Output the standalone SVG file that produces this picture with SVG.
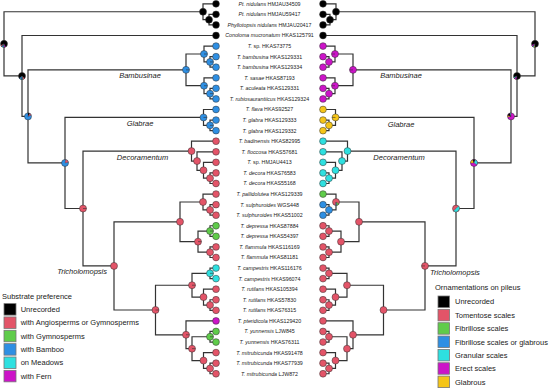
<svg xmlns="http://www.w3.org/2000/svg" width="550" height="388" viewBox="0 0 550 388">
<style>
.e{fill:none;stroke:#333;stroke-width:1.2}
.n{stroke:#333;stroke-width:0.5}
.w{stroke:#333;stroke-width:0.3}
.nl{fill:none;stroke:#333;stroke-width:0.6}
.k{fill:#000}.p{fill:#E35468}.g{fill:#5FCC4A}.b{fill:#2E8FE3}.c{fill:#2EE0E0}.m{fill:#CC14C8}.y{fill:#F5C518}
.t{font-family:"Liberation Sans",Arial,sans-serif;font-size:5.3px;text-anchor:middle;fill:#222}
.i{font-style:italic}
.cl{font-family:"Liberation Sans",Arial,sans-serif;font-size:7.5px;font-style:italic;fill:#222}
.lg{font-family:"Liberation Sans",Arial,sans-serif;font-size:7.5px;fill:#222}
.sw{stroke:#777;stroke-width:0.8}
</style>
<rect width="550" height="388" fill="#fff"/>
<g id="connectors" class="e">
<path d="M203 11.73H4V75.96H22"/>
<path d="M216 3.8H203V19.66H209"/>
<path d="M216 14.37H209V24.94H216"/>
<path d="M216 35.51H22V116.42H28"/>
<path d="M186 69.86H28V162.97H65"/>
<path d="M204 54.01H186V85.72H204"/>
<path d="M216 46.08H204V61.94H210"/>
<path d="M216 56.65H210V67.22H216"/>
<path d="M216 77.79H204V93.65H210"/>
<path d="M216 88.36H210V98.93H216"/>
<path d="M203.5 117.43H65V208.52H83"/>
<path d="M216 109.5H203.5V125.36H210"/>
<path d="M216 120.07H210V130.64H216"/>
<path d="M191.5 151.12H83V265.91H114"/>
<path d="M216 141.21H191.5V161.03H197"/>
<path d="M216 151.78H197V170.28H203.5"/>
<path d="M216 162.35H203.5V178.2H210"/>
<path d="M216 172.92H210V183.49H216"/>
<path d="M180 221.81H114V310H155.5"/>
<path d="M203 201.99H180V241.63H198"/>
<path d="M216 194.06H203V209.92H210"/>
<path d="M216 204.63H210V215.2H216"/>
<path d="M210 231.06H198V252.2H210"/>
<path d="M216 225.77H210V236.34H216"/>
<path d="M216 246.91H210V257.48H216"/>
<path d="M192 285.23H155.5V334.78H186"/>
<path d="M210 273.34H192V297.12H203.5"/>
<path d="M216 268.05H210V278.62H216"/>
<path d="M216 289.19H203.5V305.05H210"/>
<path d="M216 299.76H210V310.33H216"/>
<path d="M216 320.9H186V348.65H192"/>
<path d="M210 336.76H192V360.54H203.5"/>
<path d="M216 331.47H210V342.04H216"/>
<path d="M216 352.61H203.5V368.47H210"/>
<path d="M216 363.18H210V373.75H216"/>
<path d="M336 11.73H535V75.96H517"/>
<path d="M323 3.8H336V19.66H330"/>
<path d="M323 14.37H330V24.94H323"/>
<path d="M323 35.51H517V116.42H511"/>
<path d="M353 69.86H511V162.97H474"/>
<path d="M335 54.01H353V85.72H335"/>
<path d="M323 46.08H335V61.94H329"/>
<path d="M323 56.65H329V67.22H323"/>
<path d="M323 77.79H335V93.65H329"/>
<path d="M323 88.36H329V98.93H323"/>
<path d="M335.5 117.43H474V208.52H456"/>
<path d="M323 109.5H335.5V125.36H329"/>
<path d="M323 120.07H329V130.64H323"/>
<path d="M347.5 151.12H456V265.91H425"/>
<path d="M323 141.21H347.5V161.03H342"/>
<path d="M323 151.78H342V170.28H335.5"/>
<path d="M323 162.35H335.5V178.2H329"/>
<path d="M323 172.92H329V183.49H323"/>
<path d="M359 221.81H425V310H383.5"/>
<path d="M336 201.99H359V241.63H341"/>
<path d="M323 194.06H336V209.92H329"/>
<path d="M323 204.63H329V215.2H323"/>
<path d="M329 231.06H341V252.2H329"/>
<path d="M323 225.77H329V236.34H323"/>
<path d="M323 246.91H329V257.48H323"/>
<path d="M347 285.23H383.5V334.78H353"/>
<path d="M329 273.34H347V297.12H335.5"/>
<path d="M323 268.05H329V278.62H323"/>
<path d="M323 289.19H335.5V305.05H329"/>
<path d="M323 299.76H329V310.33H323"/>
<path d="M323 320.9H353V348.65H347"/>
<path d="M329 336.76H347V360.54H335.5"/>
<path d="M323 331.47H329V342.04H323"/>
<path d="M323 352.61H335.5V368.47H329"/>
<path d="M323 363.18H329V373.75H323"/>
</g>
<g id="internal-left">
<g id="L-root" transform="translate(4 43.85)"><circle r="3.5" class="n k"/><path class="w m" d="M0 0L1.75 3.03A3.5 3.5 0 0 1 0 3.5Z"/><path class="w c" d="M0 0L0 3.5A3.5 3.5 0 0 1 -1.2 3.29Z"/><path class="w b" d="M0 0L-1.2 3.29A3.5 3.5 0 0 1 -2.47 2.47Z"/><path class="w p" d="M0 0L-2.47 2.47A3.5 3.5 0 0 1 -3.17 1.48Z"/></g>
<g id="L-pt" transform="translate(203 11.73)"><circle r="3.5" class="n k"/></g>
<g id="L-pt23" transform="translate(209 19.66)"><circle r="3.5" class="n k"/></g>
<g id="L-n1" transform="translate(22 75.96)"><circle r="3.5" class="n k"/><path class="w p" d="M0 0L2.68 2.25A3.5 3.5 0 0 1 0.61 3.45Z"/><path class="w c" d="M0 0L0.61 3.45A3.5 3.5 0 0 1 -0.61 3.45Z"/><path class="w b" d="M0 0L-0.61 3.45A3.5 3.5 0 0 1 -2.68 2.25Z"/></g>
<g id="L-n2" transform="translate(28 116.42)"><circle r="3.5" class="n b"/><path class="w k" d="M0 0L0 -3.5A3.5 3.5 0 0 1 1.75 -3.03Z"/><path class="w p" d="M0 0L1.75 -3.03A3.5 3.5 0 0 1 3.29 -1.2Z"/></g>
<g id="L-bamb" transform="translate(186 69.86)"><circle r="3.5" class="n b"/><path class="nl" d="M0 0H3.5"/></g>
<g id="L-b4" transform="translate(204 54.01)"><circle r="3.5" class="n b"/><path class="nl" d="M0 0H3.5"/></g>
<g id="L-b56" transform="translate(210 61.94)"><circle r="3.5" class="n b"/><path class="nl" d="M0 0H3.5"/></g>
<g id="L-b7" transform="translate(204 85.72)"><circle r="3.5" class="n b"/><path class="nl" d="M0 0H3.5"/></g>
<g id="L-b89" transform="translate(210 93.65)"><circle r="3.5" class="n b"/><path class="nl" d="M0 0H3.5"/></g>
<g id="L-n3" transform="translate(65 162.97)"><circle r="3.5" class="n b"/><path class="w p" d="M0 0L0.61 -3.45A3.5 3.5 0 0 1 3.45 -0.61Z"/></g>
<g id="L-glab" transform="translate(203.5 117.43)"><circle r="3.5" class="n b"/><path class="nl" d="M0 0H3.5"/></g>
<g id="L-g1112" transform="translate(210 125.36)"><circle r="3.5" class="n b"/><path class="nl" d="M0 0H3.5"/></g>
<g id="L-n4" transform="translate(83 208.52)"><circle r="3.5" class="n p"/><path class="nl" d="M0 0H3.5"/></g>
<g id="L-dec" transform="translate(191.5 151.12)"><circle r="3.5" class="n p"/></g>
<g id="L-d14" transform="translate(197 161.03)"><circle r="3.5" class="n p"/></g>
<g id="L-d15" transform="translate(203.5 170.28)"><circle r="3.5" class="n p"/></g>
<g id="L-d1617" transform="translate(210 178.2)"><circle r="3.5" class="n p"/></g>
<g id="L-trich" transform="translate(114 265.91)"><circle r="3.5" class="n p"/></g>
<g id="L-ab" transform="translate(180 221.81)"><circle r="3.5" class="n p"/></g>
<g id="L-a" transform="translate(203 201.99)"><circle r="3.5" class="n p"/></g>
<g id="L-a1920" transform="translate(210 209.92)"><circle r="3.5" class="n p"/></g>
<g id="L-bb" transform="translate(198 241.63)"><circle r="3.5" class="n p"/><path class="nl" d="M0 0H3.5"/></g>
<g id="L-b2122" transform="translate(210 231.06)"><circle r="3.5" class="n g"/><path class="nl" d="M0 0H3.5"/></g>
<g id="L-b2324" transform="translate(210 252.2)"><circle r="3.5" class="n p"/></g>
<g id="L-lower" transform="translate(155.5 310)"><circle r="3.5" class="n p"/><path class="nl" d="M0 0H3.5"/></g>
<g id="L-cc" transform="translate(192 285.23)"><circle r="3.5" class="n p"/><path class="nl" d="M0 0H3.5"/></g>
<g id="L-c2526" transform="translate(210 273.34)"><circle r="3.5" class="n c"/><path class="nl" d="M0 0H3.5"/></g>
<g id="L-c27" transform="translate(203.5 297.12)"><circle r="3.5" class="n p"/></g>
<g id="L-c2829" transform="translate(210 305.05)"><circle r="3.5" class="n p"/></g>
<g id="L-dd" transform="translate(186 334.78)"><circle r="3.5" class="n p"/><path class="nl" d="M0 0H3.5"/></g>
<g id="L-d2" transform="translate(192 348.65)"><circle r="3.5" class="n p"/><path class="nl" d="M0 0H3.5"/></g>
<g id="L-d3132" transform="translate(210 336.76)"><circle r="3.5" class="n g"/><path class="nl" d="M0 0H3.5"/></g>
<g id="L-e33" transform="translate(203.5 360.54)"><circle r="3.5" class="n p"/></g>
<g id="L-e3435" transform="translate(210 368.47)"><circle r="3.5" class="n p"/></g>
</g>
<g id="internal-right">
<g id="R-root" transform="translate(535 43.85)"><circle r="3.5" class="n k"/><path class="w y" d="M0 0L0 3.5A3.5 3.5 0 0 1 -1.2 3.29Z"/><path class="w c" d="M0 0L-1.2 3.29A3.5 3.5 0 0 1 -2.25 2.68Z"/><path class="w m" d="M0 0L-2.25 2.68A3.5 3.5 0 0 1 -3.29 1.2Z"/></g>
<g id="R-pt" transform="translate(336 11.73)"><circle r="3.5" class="n k"/></g>
<g id="R-pt23" transform="translate(330 19.66)"><circle r="3.5" class="n k"/></g>
<g id="R-n1" transform="translate(517 75.96)"><circle r="3.5" class="n k"/><path class="w m" d="M0 0L-0.61 3.45A3.5 3.5 0 0 1 -2.68 2.25Z"/><path class="w c" d="M0 0L-2.68 2.25A3.5 3.5 0 0 1 -3.29 1.2Z"/></g>
<g id="R-n2" transform="translate(511 116.42)"><circle r="3.5" class="n m"/><path class="w y" d="M0 0L-3.45 0.61A3.5 3.5 0 0 1 -3.29 -1.2Z"/><path class="w k" d="M0 0L-3.29 -1.2A3.5 3.5 0 0 1 -1.2 -3.29Z"/><path class="w c" d="M0 0L-1.2 -3.29A3.5 3.5 0 0 1 -0.3 -3.49Z"/></g>
<g id="R-bamb" transform="translate(353 69.86)"><circle r="3.5" class="n m"/><path class="nl" d="M0 0H-3.5"/></g>
<g id="R-b4" transform="translate(335 54.01)"><circle r="3.5" class="n m"/><path class="nl" d="M0 0H-3.5"/></g>
<g id="R-b56" transform="translate(329 61.94)"><circle r="3.5" class="n m"/></g>
<g id="R-b7" transform="translate(335 85.72)"><circle r="3.5" class="n m"/><path class="nl" d="M0 0H-3.5"/></g>
<g id="R-b89" transform="translate(329 93.65)"><circle r="3.5" class="n m"/></g>
<g id="R-n3" transform="translate(474 162.97)"><circle r="3.5" class="n m"/><path class="w y" d="M0 0L-3.5 0A3.5 3.5 0 0 1 -1.2 -3.29Z"/><path class="w k" d="M0 0L-1.2 -3.29A3.5 3.5 0 0 1 1.2 -3.29Z"/><path class="w c" d="M0 0L1.2 -3.29A3.5 3.5 0 0 1 3.03 1.75Z"/></g>
<g id="R-glab" transform="translate(335.5 117.43)"><circle r="3.5" class="n y"/><path class="nl" d="M0 0H-3.5"/></g>
<g id="R-g1112" transform="translate(329 125.36)"><circle r="3.5" class="n y"/></g>
<g id="R-n4" transform="translate(456 208.52)"><circle r="3.5" class="n p"/><path class="w c" d="M0 0L2.47 -2.47A3.5 3.5 0 0 1 -2.47 2.47Z"/></g>
<g id="R-dec" transform="translate(347.5 151.12)"><circle r="3.5" class="n c"/></g>
<g id="R-d14" transform="translate(342 161.03)"><circle r="3.5" class="n c"/></g>
<g id="R-d15" transform="translate(335.5 170.28)"><circle r="3.5" class="n c"/></g>
<g id="R-d1617" transform="translate(329 178.2)"><circle r="3.5" class="n c"/></g>
<g id="R-trich" transform="translate(425 265.91)"><circle r="3.5" class="n p"/><path class="nl" d="M0 0H-3.5"/></g>
<g id="R-ab" transform="translate(359 221.81)"><circle r="3.5" class="n p"/></g>
<g id="R-a" transform="translate(336 201.99)"><circle r="3.5" class="n p"/><path class="w g" d="M0 0L3.03 1.75A3.5 3.5 0 0 1 0.61 3.45Z"/><path class="w b" d="M0 0L0.61 3.45A3.5 3.5 0 0 1 -0.61 3.45Z"/></g>
<g id="R-a1920" transform="translate(329 209.92)"><circle r="3.5" class="n b"/></g>
<g id="R-bb" transform="translate(341 241.63)"><circle r="3.5" class="n p"/></g>
<g id="R-b2122" transform="translate(329 231.06)"><circle r="3.5" class="n p"/></g>
<g id="R-b2324" transform="translate(329 252.2)"><circle r="3.5" class="n p"/></g>
<g id="R-lower" transform="translate(383.5 310)"><circle r="3.5" class="n p"/></g>
<g id="R-cc" transform="translate(347 285.23)"><circle r="3.5" class="n p"/></g>
<g id="R-c2526" transform="translate(329 273.34)"><circle r="3.5" class="n p"/></g>
<g id="R-c27" transform="translate(335.5 297.12)"><circle r="3.5" class="n p"/></g>
<g id="R-c2829" transform="translate(329 305.05)"><circle r="3.5" class="n p"/></g>
<g id="R-dd" transform="translate(353 334.78)"><circle r="3.5" class="n p"/></g>
<g id="R-d2" transform="translate(347 348.65)"><circle r="3.5" class="n p"/></g>
<g id="R-d3132" transform="translate(329 336.76)"><circle r="3.5" class="n p"/></g>
<g id="R-e33" transform="translate(335.5 360.54)"><circle r="3.5" class="n p"/></g>
<g id="R-e3435" transform="translate(329 368.47)"><circle r="3.5" class="n p"/></g>
</g>
<g id="tips">
<g id="tip01"><circle cx="216" cy="3.8" r="3.4" class="n k"/><circle cx="323" cy="3.8" r="3.4" class="n k"/><text x="269.5" y="5.7" class="t"><tspan class="i">Pt. nidulans</tspan> HMJAU34509</text></g>
<g id="tip02"><circle cx="216" cy="14.37" r="3.4" class="n k"/><circle cx="323" cy="14.37" r="3.4" class="n k"/><text x="269.5" y="16.27" class="t"><tspan class="i">Pt. nidulans</tspan> HMJAU59417</text></g>
<g id="tip03"><circle cx="216" cy="24.94" r="3.4" class="n k"/><circle cx="323" cy="24.94" r="3.4" class="n k"/><text x="269.5" y="26.84" class="t"><tspan class="i">Phyllotopsis nidulans</tspan> HMJAU20417</text></g>
<g id="tip04"><circle cx="216" cy="35.51" r="3.4" class="n k"/><circle cx="323" cy="35.51" r="3.4" class="n k"/><text x="269.5" y="37.41" class="t"><tspan class="i">Conoloma mucronatum</tspan> HKAS125791</text></g>
<g id="tip05"><circle cx="216" cy="46.08" r="3.4" class="n b"/><circle cx="323" cy="46.08" r="3.4" class="n m"/><text x="269.5" y="47.98" class="t"><tspan class="i">T.</tspan> sp. HKAS73775</text></g>
<g id="tip06"><circle cx="216" cy="56.65" r="3.4" class="n b"/><circle cx="323" cy="56.65" r="3.4" class="n m"/><text x="269.5" y="58.55" class="t"><tspan class="i">T. bambusina</tspan> HKAS129331</text></g>
<g id="tip07"><circle cx="216" cy="67.22" r="3.4" class="n b"/><circle cx="323" cy="67.22" r="3.4" class="n m"/><text x="269.5" y="69.12" class="t"><tspan class="i">T. bambusina</tspan> HKAS129334</text></g>
<g id="tip08"><circle cx="216" cy="77.79" r="3.4" class="n b"/><circle cx="323" cy="77.79" r="3.4" class="n m"/><text x="269.5" y="79.69" class="t"><tspan class="i">T. sasae</tspan> HKAS87193</text></g>
<g id="tip09"><circle cx="216" cy="88.36" r="3.4" class="n b"/><circle cx="323" cy="88.36" r="3.4" class="n m"/><text x="269.5" y="90.26" class="t"><tspan class="i">T. aculeata</tspan> HKAS129331</text></g>
<g id="tip10"><circle cx="216" cy="98.93" r="3.4" class="n b"/><circle cx="323" cy="98.93" r="3.4" class="n m"/><text x="269.5" y="100.83" class="t"><tspan class="i">T. rubiosaurantiicus</tspan> HKAS129324</text></g>
<g id="tip11"><circle cx="216" cy="109.5" r="3.4" class="n b"/><circle cx="323" cy="109.5" r="3.4" class="n y"/><text x="269.5" y="111.4" class="t"><tspan class="i">T. flava</tspan> HKAS92527</text></g>
<g id="tip12"><circle cx="216" cy="120.07" r="3.4" class="n b"/><circle cx="323" cy="120.07" r="3.4" class="n y"/><text x="269.5" y="121.97" class="t"><tspan class="i">T. glabra</tspan> HKAS129333</text></g>
<g id="tip13"><circle cx="216" cy="130.64" r="3.4" class="n b"/><circle cx="323" cy="130.64" r="3.4" class="n y"/><text x="269.5" y="132.54" class="t"><tspan class="i">T. glabra</tspan> HKAS129332</text></g>
<g id="tip14"><circle cx="216" cy="141.21" r="3.4" class="n p"/><circle cx="323" cy="141.21" r="3.4" class="n c"/><text x="269.5" y="143.11" class="t"><tspan class="i">T. badinensis</tspan> HKAS82995</text></g>
<g id="tip15"><circle cx="216" cy="151.78" r="3.4" class="n p"/><circle cx="323" cy="151.78" r="3.4" class="n c"/><text x="269.5" y="153.68" class="t"><tspan class="i">T. floccosa</tspan> HKAS57681</text></g>
<g id="tip16"><circle cx="216" cy="162.35" r="3.4" class="n p"/><circle cx="323" cy="162.35" r="3.4" class="n c"/><text x="269.5" y="164.25" class="t"><tspan class="i">T.</tspan> sp. HMJAU4413</text></g>
<g id="tip17"><circle cx="216" cy="172.92" r="3.4" class="n p"/><circle cx="323" cy="172.92" r="3.4" class="n c"/><text x="269.5" y="174.82" class="t"><tspan class="i">T. decora</tspan> HKAS76583</text></g>
<g id="tip18"><circle cx="216" cy="183.49" r="3.4" class="n p"/><circle cx="323" cy="183.49" r="3.4" class="n c"/><text x="269.5" y="185.39" class="t"><tspan class="i">T. decora</tspan> HKAS55168</text></g>
<g id="tip19"><circle cx="216" cy="194.06" r="3.4" class="n p"/><circle cx="323" cy="194.06" r="3.4" class="n g"/><text x="269.5" y="195.96" class="t"><tspan class="i">T. pallidolutea</tspan> HKAS129339</text></g>
<g id="tip20"><circle cx="216" cy="204.63" r="3.4" class="n p"/><circle cx="323" cy="204.63" r="3.4" class="n b"/><text x="269.5" y="206.53" class="t"><tspan class="i">T. sulphuroides</tspan> WGS448</text></g>
<g id="tip21"><circle cx="216" cy="215.2" r="3.4" class="n p"/><circle cx="323" cy="215.2" r="3.4" class="n b"/><text x="269.5" y="217.1" class="t"><tspan class="i">T. sulphuroides</tspan> HKAS51002</text></g>
<g id="tip22"><circle cx="216" cy="225.77" r="3.4" class="n g"/><circle cx="323" cy="225.77" r="3.4" class="n p"/><text x="269.5" y="227.67" class="t"><tspan class="i">T. depressa</tspan> HKAS87884</text></g>
<g id="tip23"><circle cx="216" cy="236.34" r="3.4" class="n g"/><circle cx="323" cy="236.34" r="3.4" class="n p"/><text x="269.5" y="238.24" class="t"><tspan class="i">T. depressa</tspan> HKAS54397</text></g>
<g id="tip24"><circle cx="216" cy="246.91" r="3.4" class="n p"/><circle cx="323" cy="246.91" r="3.4" class="n p"/><text x="269.5" y="248.81" class="t"><tspan class="i">T. flammula</tspan> HKAS116169</text></g>
<g id="tip25"><circle cx="216" cy="257.48" r="3.4" class="n p"/><circle cx="323" cy="257.48" r="3.4" class="n p"/><text x="269.5" y="259.38" class="t"><tspan class="i">T. flammula</tspan> HKAS81181</text></g>
<g id="tip26"><circle cx="216" cy="268.05" r="3.4" class="n c"/><circle cx="323" cy="268.05" r="3.4" class="n p"/><text x="269.5" y="269.95" class="t"><tspan class="i">T. campestris</tspan> HKAS116176</text></g>
<g id="tip27"><circle cx="216" cy="278.62" r="3.4" class="n c"/><circle cx="323" cy="278.62" r="3.4" class="n p"/><text x="269.5" y="280.52" class="t"><tspan class="i">T. campestris</tspan> HKAS96074</text></g>
<g id="tip28"><circle cx="216" cy="289.19" r="3.4" class="n p"/><circle cx="323" cy="289.19" r="3.4" class="n p"/><text x="269.5" y="291.09" class="t"><tspan class="i">T. rutilans</tspan> HKAS105394</text></g>
<g id="tip29"><circle cx="216" cy="299.76" r="3.4" class="n p"/><circle cx="323" cy="299.76" r="3.4" class="n p"/><text x="269.5" y="301.66" class="t"><tspan class="i">T. rutilans</tspan> HKAS57830</text></g>
<g id="tip30"><circle cx="216" cy="310.33" r="3.4" class="n p"/><circle cx="323" cy="310.33" r="3.4" class="n p"/><text x="269.5" y="312.23" class="t"><tspan class="i">T. rutilans</tspan> HKAS76315</text></g>
<g id="tip31"><circle cx="216" cy="320.9" r="3.4" class="n m"/><circle cx="323" cy="320.9" r="3.4" class="n p"/><text x="269.5" y="322.8" class="t"><tspan class="i">T. pteridicola</tspan> HKAS129420</text></g>
<g id="tip32"><circle cx="216" cy="331.47" r="3.4" class="n g"/><circle cx="323" cy="331.47" r="3.4" class="n p"/><text x="269.5" y="333.37" class="t"><tspan class="i">T. yunnensis</tspan> LJW845</text></g>
<g id="tip33"><circle cx="216" cy="342.04" r="3.4" class="n g"/><circle cx="323" cy="342.04" r="3.4" class="n p"/><text x="269.5" y="343.94" class="t"><tspan class="i">T. yunnensis</tspan> HKAS76311</text></g>
<g id="tip34"><circle cx="216" cy="352.61" r="3.4" class="n p"/><circle cx="323" cy="352.61" r="3.4" class="n p"/><text x="269.5" y="354.51" class="t"><tspan class="i">T. mitrubicunda</tspan> HKAS91478</text></g>
<g id="tip35"><circle cx="216" cy="363.18" r="3.4" class="n p"/><circle cx="323" cy="363.18" r="3.4" class="n p"/><text x="269.5" y="365.08" class="t"><tspan class="i">T. mitrubicunda</tspan> HKAS77939</text></g>
<g id="tip36"><circle cx="216" cy="373.75" r="3.4" class="n p"/><circle cx="323" cy="373.75" r="3.4" class="n p"/><text x="269.5" y="375.65" class="t"><tspan class="i">T. mitrubicunda</tspan> LJW872</text></g>
</g>
<g id="clade-labels" class="cl">
<text x="140" y="77.5" text-anchor="middle">Bambusinae</text>
<text x="140" y="126" text-anchor="middle">Glabrae</text>
<text x="142.5" y="159.5" text-anchor="middle">Decoramentum</text>
<text x="107" y="274" text-anchor="end">Tricholomopsis</text>
<text x="401" y="77.5" text-anchor="middle">Bambusinae</text>
<text x="401" y="126.5" text-anchor="middle">Glabrae</text>
<text x="399" y="159.5" text-anchor="middle">Decoramentum</text>
<text x="430" y="275">Tricholomopsis</text>
</g>
<g id="legend-substrate" class="lg">
<text x="2" y="298.7">Substrate preference</text>
<rect x="4" y="303.6" width="12" height="11.5" class="sw k"/><text x="20.7" y="312">Unrecorded</text>
<rect x="4" y="316.95" width="12" height="11.5" class="sw p"/><text x="20.7" y="325.4">with Angiosperms or Gymnosperms</text>
<rect x="4" y="330.3" width="12" height="11.5" class="sw g"/><text x="20.7" y="338.7">with Gymnosperms</text>
<rect x="4" y="343.65" width="12" height="11.5" class="sw b"/><text x="20.7" y="352.1">with Bamboo</text>
<rect x="4" y="357" width="12" height="11.5" class="sw c"/><text x="20.7" y="365.4">on Meadows</text>
<rect x="4" y="370.35" width="12" height="11.5" class="sw m"/><text x="20.7" y="378.8">with Fern</text>
</g>
<g id="legend-ornament" class="lg">
<text x="435" y="290.4">Ornamentations on pileus</text>
<rect x="438" y="296" width="11.5" height="11.5" class="sw k"/><text x="455" y="304.4">Unrecorded</text>
<rect x="438" y="309.35" width="11.5" height="11.5" class="sw p"/><text x="455" y="317.8">Tomentose scales</text>
<rect x="438" y="322.7" width="11.5" height="11.5" class="sw g"/><text x="455" y="331.1">Fibrillose scales</text>
<rect x="438" y="336.05" width="11.5" height="11.5" class="sw b"/><text x="455" y="344.5">Fibrillose scales or glabrous</text>
<rect x="438" y="349.4" width="11.5" height="11.5" class="sw c"/><text x="455" y="357.8">Granular scales</text>
<rect x="438" y="362.75" width="11.5" height="11.5" class="sw m"/><text x="455" y="371.2">Erect scales</text>
<rect x="438" y="376.1" width="11.5" height="11.5" class="sw y"/><text x="455" y="384.5">Glabrous</text>
</g>
</svg>
